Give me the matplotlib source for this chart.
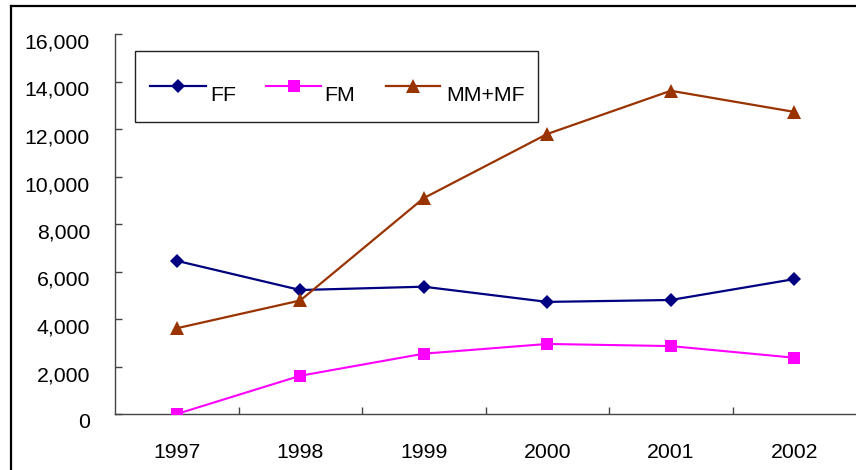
import matplotlib
matplotlib.use("Agg")
import matplotlib.pyplot as plt
import matplotlib.transforms as mtransforms
from matplotlib.lines import Line2D
from matplotlib.patches import Rectangle
from matplotlib.ticker import FuncFormatter, FixedLocator

years = ["1997", "1998", "1999", "2000", "2001", "2002"]
ff = [6450, 5220, 5360, 4720, 4800, 5680]
fm = [0, 1610, 2540, 2950, 2860, 2370]
mm_mf = [3610, 4780, 9090, 11790, 13610, 12720]
y_ticks = [0, 2000, 4000, 6000, 8000, 10000, 12000, 14000, 16000]

plt.rcParams["font.family"] = ["Liberation Sans", "DejaVu Sans"]

W, H = 856, 470
fig = plt.figure(figsize=(W / 100, H / 100), dpi=100)
fig.patch.set_facecolor("white")

# plot area in pixel terms
left_px, right_px, top_px, bottom_px = 115, 856, 34, 414
ax_w = right_px - left_px
ax_h = bottom_px - top_px
ax = fig.add_axes([left_px / W, (H - bottom_px) / H, ax_w / W, ax_h / H])

styles = [
    ("FF", ff, dict(color="#000080", lw=1.6, marker="D", ms=6.9)),
    ("FM", fm, dict(color="#FF00FF", lw=1.5, marker="s", ms=8.6)),
    ("MM+MF", mm_mf, dict(color="#993300", lw=1.6, marker="^", ms=10.4)),
]

x = list(range(len(years)))
for name, vals, st in styles:
    ax.plot(x, vals, markeredgewidth=0, label=name, zorder=3, **st)

ax.set_xlim(-0.5, len(years) - 0.5)
ax.set_ylim(0, 16000)

# axes styling
for s in ("top", "right"):
    ax.spines[s].set_visible(False)
for s in ("left", "bottom"):
    ax.spines[s].set_color("#444444")
    ax.spines[s].set_linewidth(1.0)

ax.set_yticks(y_ticks)
ax.yaxis.set_major_formatter(FuncFormatter(lambda v, p: f"{int(v):,}"))
ax.tick_params(axis="y", direction="in", length=5, width=1.0,
               color="#444444", labelsize=15.3, pad=18)
shift_down = mtransforms.ScaledTranslation(0, -7 / 100, fig.dpi_scale_trans)
for lab in ax.get_yticklabels():
    lab.set_transform(lab.get_transform() + shift_down)

ax.set_xticks(x)
ax.set_xticklabels(years)
ax.xaxis.set_minor_locator(FixedLocator([i + 0.5 for i in range(len(years) - 1)]))
ax.tick_params(axis="x", which="major", length=0, labelsize=15.3, pad=21)
ax.tick_params(axis="x", which="minor", direction="in", length=5, width=1.0,
               color="#444444")

# legend box with sample lines and labels
bx0, bx1, by0, by1 = 134.7, 538, 50.7, 122


def to_ax(px, py):
    return (px - left_px) / ax_w, (bottom_px - py) / ax_h


r0 = to_ax(bx0, by1)
ax.add_patch(Rectangle(r0, (bx1 - bx0) / ax_w, (by1 - by0) / ax_h,
                       transform=ax.transAxes, facecolor="white",
                       edgecolor="#222222", lw=1.0, zorder=4))
leg_line_y = 86.0
leg_text_y = 93.2
leg_x = [(150, 206, 210.5), (266, 321, 324.5), (385.5, 440, 446.5)]
for (name, _, st), (lx0, lx1, tx) in zip(styles, leg_x):
    (ax0, ay), (ax1, _) = to_ax(lx0, leg_line_y), to_ax(lx1, leg_line_y)
    ax.add_line(Line2D([ax0, ax1], [ay, ay], transform=ax.transAxes,
                       color=st["color"], lw=st["lw"], zorder=5))
    ax.add_line(Line2D([(ax0 + ax1) / 2], [ay], transform=ax.transAxes,
                       color=st["color"], marker=st["marker"], ms=st["ms"],
                       markeredgewidth=0, lw=0, zorder=5))
    tx_a, ty_a = to_ax(tx, leg_text_y)
    ax.text(tx_a, ty_a, name, transform=ax.transAxes, fontsize=15.3,
            ha="left", va="center_baseline", zorder=6)

# outer frame lines
fig.add_artist(Line2D([11 / W, 11 / W], [0, (H - 5.5) / H],
                      transform=fig.transFigure, color="black", lw=1.6))
fig.add_artist(Line2D([11 / W, 1], [(H - 5.5) / H, (H - 5.5) / H],
                      transform=fig.transFigure, color="black", lw=1.6))

fig.savefig("out.png", dpi=100)
